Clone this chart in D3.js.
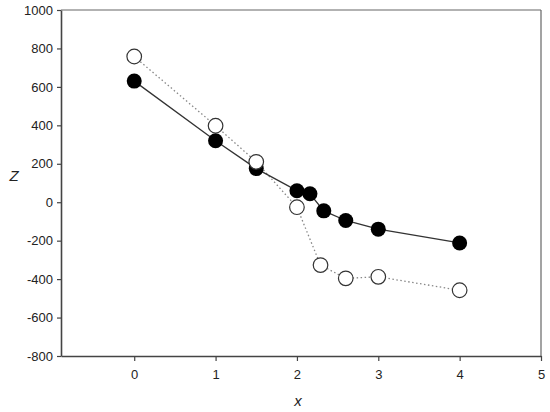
<!DOCTYPE html>
<html>
<head>
<meta charset="utf-8">
<script src="https://cdn.jsdelivr.net/npm/d3@7"></script>
<style>
  body { margin: 0; background: #fff; }
  svg text { font-family: "Liberation Sans", Arial, sans-serif; fill: #222; }
</style>
</head>
<body>
<div id="chart"></div>
<script>
// Data
const filledX = [0, 1, 1.5, 2, 2.16, 2.33, 2.6, 3, 4];
const filledZ = [630, 320, 175, 60, 44, -45, -95, -140, -212];
const openX = [0, 1, 1.5, 2, 2.29, 2.6, 3, 4];
const openZ = [758, 398, 210, -26, -327, -396, -388, -458];
const xTicks = [0, 1, 2, 3, 4, 5];
const yTicks = [-800, -600, -400, -200, 0, 200, 400, 600, 800, 1000];

const width = 550;
const height = 412;
const margin = { top: 10, right: 9, bottom: 56, left: 61 };
const innerW = width - margin.left - margin.right;
const innerH = height - margin.top - margin.bottom;

const svg = d3.select('#chart')
  .append('svg')
  .attr('width', width)
  .attr('height', height);

const g = svg.append('g')
  .attr('transform', `translate(${margin.left},${margin.top})`);

const x = d3.scaleLinear().domain([-0.9, 5]).range([0, innerW]);
const y = d3.scaleLinear().domain([-800, 1000]).range([innerH, 0]);

// Frame (top and right sides lighter)
g.append('line')
  .attr('x1', 0).attr('x2', innerW).attr('y1', 0).attr('y2', 0)
  .attr('stroke', '#666').attr('stroke-width', 1.2);
g.append('line')
  .attr('x1', innerW).attr('x2', innerW).attr('y1', 0).attr('y2', innerH)
  .attr('stroke', '#666').attr('stroke-width', 1.2);

// plain integer labels, hyphen for the minus sign
const plain = (d) => String(d);

// Axes
const xAxis = g.append('g')
  .attr('transform', `translate(0,${innerH})`)
  .call(d3.axisBottom(x).tickValues(xTicks).tickFormat(plain)
    .tickSize(5).tickPadding(9).tickSizeOuter(0));
const yAxis = g.append('g')
  .call(d3.axisLeft(y).tickValues(yTicks).tickFormat(plain)
    .tickSize(4).tickPadding(4).tickSizeOuter(0));

[xAxis, yAxis].forEach((ax) => {
  ax.select('.domain').attr('stroke', '#444').attr('stroke-width', 1.6);
  ax.selectAll('.tick line').attr('stroke', '#444').attr('stroke-width', 1.2);
  ax.selectAll('.tick text')
    .style('font-family', '"Liberation Sans", Arial, sans-serif')
    .style('font-size', '13px')
    .attr('fill', '#222');
});

// Axis titles
svg.append('text')
  .text('x')
  .attr('x', margin.left + innerW / 2 - 3)
  .attr('y', 406)
  .attr('text-anchor', 'middle')
  .style('font-size', '15px')
  .style('font-style', 'italic');

svg.append('text')
  .text('Z')
  .attr('x', 14)
  .attr('y', 181)
  .attr('text-anchor', 'middle')
  .style('font-size', '15px')
  .style('font-style', 'italic');

const filled = filledX.map((d, i) => ({ x: d, z: filledZ[i] }));
const open = openX.map((d, i) => ({ x: d, z: openZ[i] }));

const line = d3.line().x((d) => x(d.x)).y((d) => y(d.z));

// Dotted line for open circles
g.append('path')
  .datum(open)
  .attr('d', line)
  .attr('fill', 'none')
  .attr('stroke', '#888')
  .attr('stroke-width', 1.3)
  .attr('stroke-dasharray', '1.5,2.5');

// Solid line for filled circles
g.append('path')
  .datum(filled)
  .attr('d', line)
  .attr('fill', 'none')
  .attr('stroke', '#333')
  .attr('stroke-width', 1.3);

// Open markers
g.selectAll('.open')
  .data(open)
  .enter()
  .append('circle')
  .attr('class', 'open')
  .attr('cx', (d) => x(d.x))
  .attr('cy', (d) => y(d.z))
  .attr('r', 7.3)
  .attr('fill', '#fff')
  .attr('stroke', '#333')
  .attr('stroke-width', 1.2);

// Filled markers
g.selectAll('.filled')
  .data(filled)
  .enter()
  .append('circle')
  .attr('class', 'filled')
  .attr('cx', (d) => x(d.x))
  .attr('cy', (d) => y(d.z))
  .attr('r', 7.5)
  .attr('fill', '#000');

// the open marker at x = 1.5 sits on top of its filled one in the picture
g.selectAll('.open')
  .filter((d) => d.x === 1.5)
  .raise();
</script>
</body>
</html>
